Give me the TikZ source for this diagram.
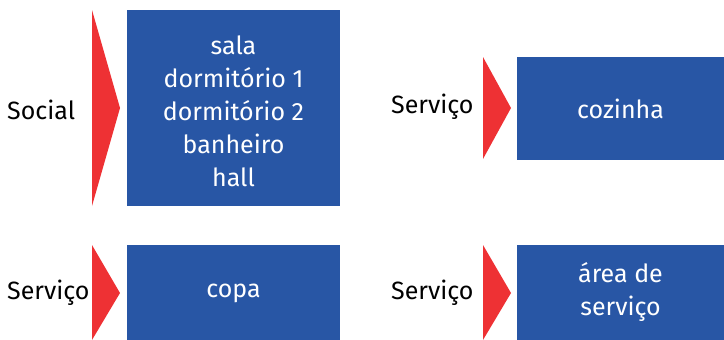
\documentclass[tikz,border=0pt]{standalone}
\usepackage{fontspec}
\setmainfont{Fira Sans}
\definecolor{boxblue}{RGB}{40,86,165}
\definecolor{arrred}{RGB}{238,49,52}
\begin{document}
\begin{tikzpicture}[x=1pt,y=-1pt,
  bluebox/.style={fill=boxblue,text=white,inner sep=0pt,font=\fontsize{25}{33}\selectfont,align=center},
  lbl/.style={font=\fontsize{25}{33}\selectfont,inner sep=0pt,anchor=west},
  tri/.style={fill=arrred}]
\useasboundingbox (0,0) rectangle (724,340);
% boxes
\fill[boxblue] (127,10) rectangle (340,206);
\node[bluebox] (soc) at (233.5,111) {sala\\dormitório 1\\dormitório 2\\banheiro\\hall};
\fill[boxblue] (517,57) rectangle (724,160);
\node[bluebox] (coz) at (620.5,109) {cozinha};
\fill[boxblue] (127,245) rectangle (340,340);
\node[bluebox] (copa) at (233.5,293) {copa};
\fill[boxblue] (517,245) rectangle (724,340);
\node[bluebox] (area) at (620.5,292) {área de\\serviço};
% triangles
\fill[tri] (92,10) -- (120,108) -- (92,206) -- cycle;
\fill[tri] (483,57) -- (511,108) -- (483,159) -- cycle;
\fill[tri] (92,245) -- (120,293) -- (92,340) -- cycle;
\fill[tri] (483,245) -- (511,293) -- (483,340) -- cycle;
% labels
\node[lbl] (l1) at (7,110) {Social};
\node[lbl] (l2) at (391,107) {Serviço};
\node[lbl] (l3) at (7,293) {Serviço};
\node[lbl] (l4) at (391,293) {Serviço};
\end{tikzpicture}
\end{document}
